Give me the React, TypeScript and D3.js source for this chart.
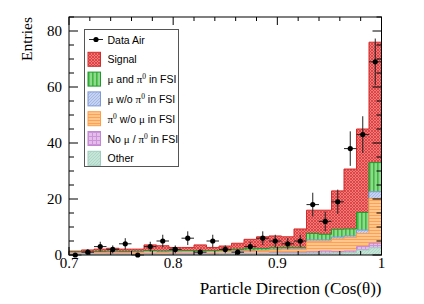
import React, { useEffect, useRef } from 'react';
import * as d3 from 'd3';

// binning of the histogram (cos theta from 0.7 to 1, 25 bins)
const binLow = 0.7;
const binWidth = 0.012;
const nBins = 25;

// measured data (entries per bin)
const dataAir = [0, 1, 3, 2, 4, 0, 3, 5, 2, 6, 1, 5, 2, 1, 3, 6, 5, 4, 5, 18, 12, 19, 38, 43, 69];

// MC components, bottom to top of the stack
const other = [0.3, 0.3, 0.3, 0.3, 0.3, 0.3, 0.3, 0.3, 0.3, 0.3, 0.3, 0.3, 0.4, 0.4, 0.4, 0.4, 0.5, 0.5, 0.5, 0.6, 0.6, 0.7, 0.8, 1.8, 2.6];
const noMuPi = [0.1, 0.1, 0.1, 0.2, 0.1, 0.1, 0.2, 0.1, 0.2, 0.3, 0.2, 0.2, 0.2, 0.2, 0.2, 0.2, 0.3, 0.3, 0.3, 0.5, 0.8, 0.5, 0.6, 1.2, 1.6];
const pi0NoMu = [0.3, 0.3, 0.4, 0.4, 0.4, 0.5, 0.6, 0.5, 0.5, 0.5, 0.6, 0.6, 0.6, 0.7, 0.8, 0.9, 1.0, 1.1, 1.1, 3.8, 3.5, 4.5, 4.8, 4.7, 16];
const muNoPi = [0.1, 0.1, 0.1, 0.1, 0.1, 0.1, 0.1, 0.1, 0.1, 0.1, 0.1, 0.1, 0.1, 0.2, 0.2, 0.2, 0.2, 0.3, 0.3, 0.5, 0.5, 0.7, 0.6, 1.2, 2.4];
const muPi = [0.3, 0.3, 0.3, 0.3, 0.3, 0.3, 0.4, 0.4, 0.4, 0.4, 0.4, 0.4, 0.4, 0.5, 0.6, 0.6, 0.6, 0.5, 0.4, 2.3, 2.0, 2.8, 2.5, 6.3, 10.4];
const signal = [0.3, 0.7, 0.9, 1.1, 0.9, 0.8, 2.0, 1.9, 1.2, 1.1, 2.0, 1.1, 1.5, 2.2, 3.4, 4.2, 4.2, 3.8, 6.7, 8.3, 8.6, 13.7, 21.4, 29.8, 43];

const xTicks = [0.7, 0.8, 0.9, 1];
const yTicks = [0, 20, 40, 60, 80];

const layers = [
  { key: 'other', values: other, pat: 'p-other', line: '#9fcdbd' },
  { key: 'nomupi', values: noMuPi, pat: 'p-purple', line: '#c586d3' },
  { key: 'pi0', values: pi0NoMu, pat: 'p-orange', line: '#ff9d45' },
  { key: 'munopi', values: muNoPi, pat: 'p-blue', line: '#7e98d8' },
  { key: 'mupi', values: muPi, pat: 'p-green', line: '#1e9a2a' },
  { key: 'signal', values: signal, pat: 'p-red', line: '#d42a2a' },
];

const width = 424;
const height = 304;
const margin = { top: 17, right: 42.5, bottom: 49, left: 69 };

export default function App() {
  const svgRef = useRef(null);

  useEffect(() => {
    const svg = d3.select(svgRef.current);
    svg.selectAll('*').remove();

    const innerW = width - margin.left - margin.right;
    const innerH = height - margin.top - margin.bottom;

    const x = d3.scaleLinear().domain([0.7, 1]).range([0, innerW]);
    const y = d3.scaleLinear().domain([0, 85]).range([innerH, 0]);

    // patterns
    const defs = svg.append('defs');
    const mk = (id, w, h, bg) => {
      const p = defs.append('pattern').attr('id', id).attr('patternUnits', 'userSpaceOnUse').attr('width', w).attr('height', h);
      p.append('rect').attr('width', w).attr('height', h).attr('fill', bg);
      return p;
    };
    let p = mk('p-red', 3, 3, '#f07a7a');
    p.append('path').attr('d', 'M0,0L3,3M3,0L0,3').attr('stroke', '#d83a3a').attr('stroke-width', 0.8);
    p = mk('p-green', 4, 4, '#8fd98f');
    p.append('rect').attr('x', 0).attr('width', 1.6).attr('height', 4).attr('fill', '#3fb83f');
    p = mk('p-blue', 3, 3, '#c5d3f1');
    p.append('path').attr('d', 'M0,3L3,0').attr('stroke', '#9bb1e3').attr('stroke-width', 0.8);
    p = mk('p-orange', 4, 3, '#ffc68e');
    p.append('rect').attr('y', 0).attr('width', 4).attr('height', 1).attr('fill', '#ffa054');
    p = mk('p-purple', 4, 4, '#e4bdeb');
    p.append('path').attr('d', 'M0,0.5H4M0.5,0V4').attr('stroke', '#cc94d8').attr('stroke-width', 1);
    p = mk('p-other', 3, 3, '#c5e5d8');
    p.append('path').attr('d', 'M0,3L3,0').attr('stroke', '#a9d3c3').attr('stroke-width', 0.8);

    const g = svg.append('g').attr('transform', `translate(${margin.left},${margin.top})`);

    // cumulative stack
    const cum = [];
    let running = new Array(nBins).fill(0);
    layers.forEach(l => {
      running = running.map((v, i) => v + l.values[i]);
      cum.push({ ...l, total: running.slice() });
    });

    const stepPts = vals => {
      const pts = [];
      vals.forEach((v, i) => {
        pts.push([binLow + i * binWidth, v]);
        pts.push([binLow + (i + 1) * binWidth, v]);
      });
      return pts;
    };
    const area = d3.area().x(d => x(d[0])).y0(y(0)).y1(d => y(d[1]));
    const line = d3.line().x(d => x(d[0])).y(d => y(d[1]));

    const stack = g.append('g');
    cum.slice().reverse().forEach(l => {
      const pts = stepPts(l.total);
      stack.append('path').attr('d', area(pts)).attr('fill', `url(#${l.pat})`);
      const outline = [[binLow, 0], ...pts, [binLow + nBins * binWidth, 0]];
      stack.append('path').attr('d', line(outline)).attr('fill', 'none').attr('stroke', l.line).attr('stroke-width', 1);
    });

    // axes: ticks inward, mirrored
    const yMinor = d3.range(0, 86, 5);
    const xMinor = d3.range(0, 16).map(i => 0.7 + i * 0.02);
    const ax = g.append('g').attr('stroke', '#000').attr('stroke-width', 1);
    yMinor.forEach(v => {
      const len = yTicks.includes(v) ? 9 : 5;
      ax.append('line').attr('x1', 0).attr('x2', len).attr('y1', y(v)).attr('y2', y(v));
      ax.append('line').attr('x1', innerW).attr('x2', innerW - len).attr('y1', y(v)).attr('y2', y(v));
    });
    xMinor.forEach((v, i) => {
      const len = i % 5 === 0 ? 8 : 4;
      ax.append('line').attr('y1', innerH).attr('y2', innerH - len).attr('x1', x(v)).attr('x2', x(v));
      ax.append('line').attr('y1', 0).attr('y2', len).attr('x1', x(v)).attr('x2', x(v));
    });
    g.append('rect').attr('width', innerW).attr('height', innerH).attr('fill', 'none').attr('stroke', '#000').attr('stroke-width', 1);

    const serif = '"Liberation Serif", "Times New Roman", serif';
    g.selectAll('.ylab').data(yTicks).join('text')
      .attr('x', -7).attr('y', d => y(d) + 4.5).attr('text-anchor', 'end')
      .attr('font-family', serif).attr('font-size', 15).text(d => d);
    g.selectAll('.xlab').data(xTicks).join('text')
      .attr('x', d => x(d)).attr('y', innerH + 13).attr('text-anchor', 'middle')
      .attr('font-family', serif).attr('font-size', 15).text(d => d3.format('')(d));

    svg.append('text').attr('transform', `translate(32,${margin.top}) rotate(-90)`)
      .attr('text-anchor', 'end').attr('font-family', serif).attr('font-size', 15.5).text('Entries');
    svg.append('text').attr('x', margin.left + innerW).attr('y', 294)
      .attr('text-anchor', 'end').attr('font-family', serif).attr('font-size', 17).text('Particle Direction (Cos(θ))');

    // data points with Poisson errors
    const pts = g.append('g');
    dataAir.forEach((n, i) => {
      const cx = x(binLow + (i + 0.5) * binWidth);
      const err = Math.sqrt(n);
      pts.append('line').attr('x1', x(binLow + i * binWidth)).attr('x2', x(binLow + (i + 1) * binWidth))
        .attr('y1', y(n)).attr('y2', y(n)).attr('stroke', '#222').attr('stroke-width', 1);
      if (n > 0) {
        pts.append('line').attr('x1', cx).attr('x2', cx).attr('y1', y(n - err)).attr('y2', y(n + err))
          .attr('stroke', '#222').attr('stroke-width', 1);
      }
      pts.append('circle').attr('cx', cx).attr('cy', y(n)).attr('r', 2.6).attr('fill', '#000');
    });

    // legend
    const sans = '"Liberation Sans", Arial, sans-serif';
    const leg = svg.append('g');
    leg.append('rect').attr('x', 84.5).attr('y', 29.5).attr('width', 94).attr('height', 137)
      .attr('fill', '#fff').attr('stroke', '#555').attr('stroke-width', 1);
    const rowY = d3.range(7).map(i => 39.5 + i * 19.8);
    leg.append('line').attr('x1', 89).attr('x2', 103).attr('y1', rowY[0]).attr('y2', rowY[0]).attr('stroke', '#222');
    leg.append('circle').attr('cx', 96).attr('cy', rowY[0]).attr('r', 2.6).attr('fill', '#000');

    const entries = [
      { pat: 'p-red', line: '#d42a2a', parts: [['Signal', 0]] },
      { pat: 'p-green', line: '#1e9a2a', parts: [['μ', 1], [' and ', 0], ['π', 1], ['0', 2], [' in FSI', 0]] },
      { pat: 'p-blue', line: '#7e98d8', parts: [['μ', 1], [' w/o ', 0], ['π', 1], ['0', 2], [' in FSI', 0]] },
      { pat: 'p-orange', line: '#ff9d45', parts: [['π', 1], ['0', 2], [' w/o ', 0], ['μ', 1], [' in FSI', 0]] },
      { pat: 'p-purple', line: '#c586d3', parts: [['No ', 0], ['μ', 1], [' / ', 0], ['π', 1], ['0', 2], [' in FSI', 0]] },
      { pat: 'p-other', line: '#9fcdbd', parts: [['Other', 0]] },
    ];
    const txt = (yy, parts) => {
      const el = leg.append('text').attr('x', 107.5).attr('y', yy + 4).attr('font-family', sans).attr('font-size', 10.5).attr('fill', '#000');
      parts.forEach(([s, k], j) => {
        const ts = el.append('tspan').text(s);
        if (k === 1) ts.attr('font-family', serif).attr('font-size', 11);
        if (k === 2) ts.attr('font-family', serif).attr('font-size', 7.5).attr('dy', -4);
        if (j > 0 && parts[j - 1][1] === 2) ts.attr('dy', 4);
      });
    };
    txt(rowY[0], [['Data Air', 0]]);
    entries.forEach((e, i) => {
      const cy = rowY[i + 1];
      leg.append('rect').attr('x', 88).attr('y', cy - 7).attr('width', 12.5).attr('height', 14)
        .attr('fill', `url(#${e.pat})`).attr('stroke', e.line).attr('stroke-width', 1);
      txt(cy, e.parts);
    });
  }, []);

  return (
    <svg ref={svgRef} width={width} height={height}
      style={{ position: 'absolute', left: 0, top: 0, background: '#fff' }} />
  );
}
